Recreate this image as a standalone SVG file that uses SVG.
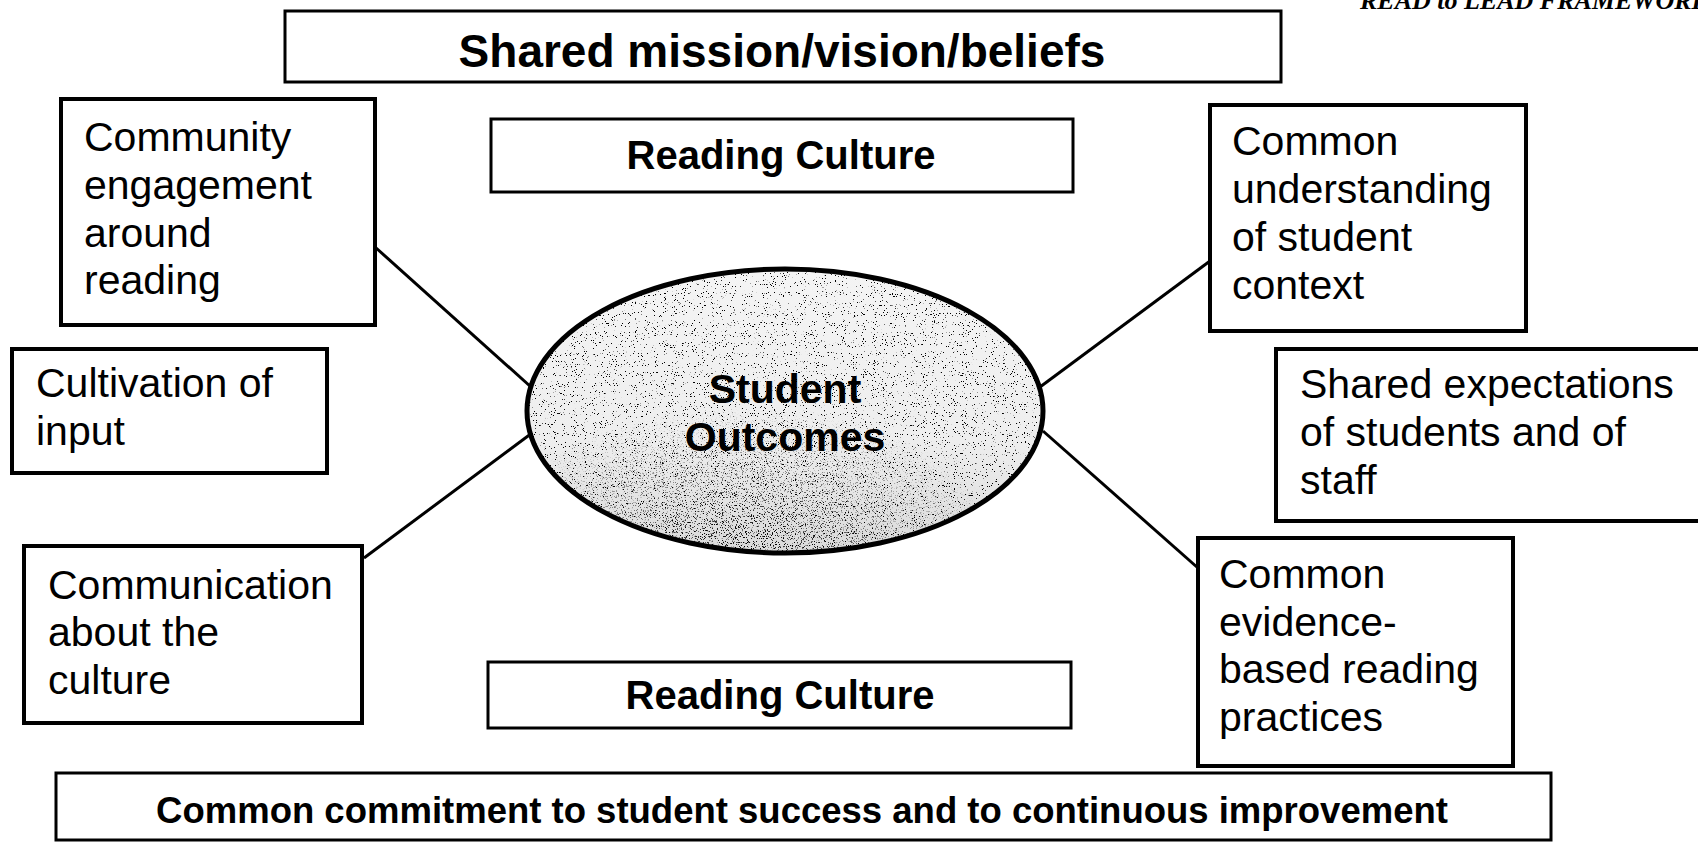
<svg xmlns="http://www.w3.org/2000/svg" width="1698" height="843" viewBox="0 0 1698 843">
<style>
.bg{fill:#fff}
.box{fill:#fff;stroke:#000;stroke-width:4}
.band{fill:#fff;stroke:#000;stroke-width:3}
.t{font-family:"Liberation Sans",Arial,sans-serif;font-size:41px;fill:#000}
.b{font-family:"Liberation Sans",Arial,sans-serif;font-weight:bold;fill:#000;text-anchor:middle}
.conn{stroke:#000;stroke-width:3;fill:none}
.hdr{font-family:"Liberation Serif","Times New Roman",serif;font-weight:bold;font-style:italic;font-size:26px;fill:#000}
</style>
<defs>
<linearGradient id="shade" x1="0" y1="0" x2="0" y2="1">
<stop offset="0" stop-color="#f4f4f4"/>
<stop offset="0.6" stop-color="#eeeeee"/>
<stop offset="1" stop-color="#dadada"/>
</linearGradient>
<filter id="speckle" filterUnits="userSpaceOnUse" x="520" y="260" width="530" height="305">
<feTurbulence type="fractalNoise" baseFrequency="0.9" numOctaves="2" seed="7" result="n"/>
<feColorMatrix in="n" type="matrix" values="0 0 0 0 0  0 0 0 0 0  0 0 0 0 0  -20 0 0 0 6.5" result="dots"/>
<feComposite in="dots" in2="SourceGraphic" operator="in"/>
</filter>
<filter id="speckle2" filterUnits="userSpaceOnUse" x="520" y="260" width="530" height="305">
<feTurbulence type="fractalNoise" baseFrequency="0.8" numOctaves="2" seed="21" result="n"/>
<feColorMatrix in="n" type="matrix" values="0 0 0 0 0  0 0 0 0 0  0 0 0 0 0  -14 0 0 0 5.6" result="dots"/>
<feComposite in="dots" in2="SourceGraphic" operator="in"/>
</filter>
<radialGradient id="bottomMask" cx="0.42" cy="0.98" r="0.5">
<stop offset="0" stop-color="#000" stop-opacity="1"/>
<stop offset="1" stop-color="#000" stop-opacity="0"/>
</radialGradient>
</defs>
<rect class="bg" x="0" y="0" width="1698" height="843"/>

<text class="hdr" x="1360" y="9">READ to LEAD FRAMEWORK</text>

<g id="connectors">
<line class="conn" x1="375" y1="247" x2="531" y2="387"/>
<line class="conn" x1="364" y1="558" x2="532" y2="433"/>
<line class="conn" x1="1210" y1="261" x2="1040" y2="387"/>
<line class="conn" x1="1043" y1="431" x2="1198" y2="568"/>
</g>

<g id="title">
<rect class="band" x="285" y="11" width="996" height="71"/>
<text class="b" x="782" y="67" font-size="46">Shared mission/vision/beliefs</text>
</g>

<g id="reading-culture-top">
<rect class="band" x="491" y="119" width="582" height="73"/>
<text class="b" x="781" y="169" font-size="40">Reading Culture</text>
</g>

<g id="community">
<rect class="box" x="61" y="99" width="314" height="226"/>
<text class="t" x="84" y="151">Community</text>
<text class="t" x="84" y="199">engagement</text>
<text class="t" x="84" y="247">around</text>
<text class="t" x="84" y="294">reading</text>
</g>

<g id="cultivation">
<rect class="box" x="12" y="349" width="315" height="124"/>
<text class="t" x="36" y="397">Cultivation of</text>
<text class="t" x="36" y="445">input</text>
</g>

<g id="communication">
<rect class="box" x="24" y="546" width="338" height="177"/>
<text class="t" x="48" y="599">Communication</text>
<text class="t" x="48" y="646">about the</text>
<text class="t" x="48" y="694">culture</text>
</g>

<g id="understanding">
<rect class="box" x="1210" y="105" width="316" height="226"/>
<text class="t" x="1232" y="155">Common</text>
<text class="t" x="1232" y="203">understanding</text>
<text class="t" x="1232" y="251">of student</text>
<text class="t" x="1232" y="299">context</text>
</g>

<g id="expectations">
<rect class="box" x="1276" y="349" width="440" height="172"/>
<text class="t" x="1300" y="398">Shared expectations</text>
<text class="t" x="1300" y="446">of students and of</text>
<text class="t" x="1300" y="494">staff</text>
</g>

<g id="evidence">
<rect class="box" x="1198" y="538" width="315" height="228"/>
<text class="t" x="1219" y="588">Common</text>
<text class="t" x="1219" y="636">evidence-</text>
<text class="t" x="1219" y="683">based reading</text>
<text class="t" x="1219" y="731">practices</text>
</g>

<g id="outcomes">
<ellipse cx="785" cy="411" rx="258" ry="142" fill="url(#shade)"/>
<ellipse cx="785" cy="411" rx="258" ry="142" fill="#000" filter="url(#speckle)"/>
<ellipse cx="785" cy="411" rx="258" ry="142" fill="url(#bottomMask)" filter="url(#speckle2)"/>
<ellipse cx="785" cy="411" rx="258" ry="142" fill="none" stroke="#000" stroke-width="5"/>
<text class="b" x="785" y="403" font-size="41">Student</text>
<text class="b" x="785" y="451" font-size="41">Outcomes</text>
</g>

<g id="reading-culture-bottom">
<rect class="band" x="488" y="662" width="583" height="66"/>
<text class="b" x="780" y="709" font-size="40">Reading Culture</text>
</g>

<g id="commitment">
<rect class="band" x="56" y="773" width="1495" height="67"/>
<text class="b" x="802" y="823" font-size="36.5">Common commitment to student success and to continuous improvement</text>
</g>
</svg>
